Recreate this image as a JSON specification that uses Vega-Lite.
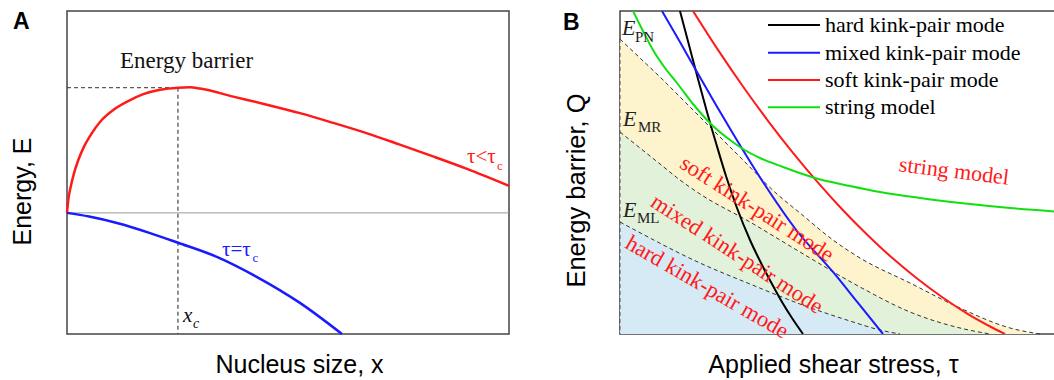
{
  "$schema": "https://vega.github.io/schema/vega-lite/v6.json",
  "background": "white",
  "padding": {"left": 9, "top": 10, "right": 0, "bottom": 0},
  "spacing": 47,
  "config": {
    "view": {"stroke": "#444", "strokeWidth": 1.5},
    "axis": {"domain": false, "ticks": false, "labels": false, "grid": false, "titleFont": "Liberation Sans", "titleFontSize": 25, "titleFontWeight": "normal", "titleColor": "#000", "titleBaseline": "alphabetic"},
    "text": {"font": "Liberation Serif", "fontSize": 22}
  },
  "datasets": {
    "a_red": [
      {"x": 0, "y": 0}, {"x": 0.029, "y": 0.32}, {"x": 0.084, "y": 0.65}, {"x": 0.158, "y": 0.98}, {"x": 0.256, "y": 1.31},
      {"x": 0.385, "y": 1.64}, {"x": 0.559, "y": 1.97}, {"x": 0.785, "y": 2.30}, {"x": 1.047, "y": 2.55}, {"x": 1.350, "y": 2.75},
      {"x": 1.726, "y": 2.94}, {"x": 2.104, "y": 3.05}, {"x": 2.52, "y": 3.10}, {"x": 2.78, "y": 3.11}, {"x": 3.01, "y": 3.08},
      {"x": 3.76, "y": 2.88}, {"x": 4.52, "y": 2.68}, {"x": 5.27, "y": 2.47}, {"x": 6.02, "y": 2.23}, {"x": 6.79, "y": 1.97},
      {"x": 7.53, "y": 1.69}, {"x": 8.28, "y": 1.40}, {"x": 9.05, "y": 1.09}, {"x": 10, "y": 0.67}
    ],
    "a_blue": [
      {"x": 0, "y": 0}, {"x": 0.5, "y": -0.09}, {"x": 1.13, "y": -0.25}, {"x": 1.88, "y": -0.50}, {"x": 2.51, "y": -0.74},
      {"x": 3.39, "y": -1.09}, {"x": 4.30, "y": -1.59}, {"x": 5.27, "y": -2.23}, {"x": 6.22, "y": -3.0}
    ],
    "b_models": [
      {"model": "hard kink-pair mode", "x": 1.357, "y": 10.0}, {"model": "hard kink-pair mode", "x": 1.561, "y": 8.947},
      {"model": "hard kink-pair mode", "x": 1.765, "y": 7.895}, {"model": "hard kink-pair mode", "x": 1.968, "y": 6.873},
      {"model": "hard kink-pair mode", "x": 2.172, "y": 5.913}, {"model": "hard kink-pair mode", "x": 2.398, "y": 4.892},
      {"model": "hard kink-pair mode", "x": 2.647, "y": 3.901}, {"model": "hard kink-pair mode", "x": 2.941, "y": 2.910},
      {"model": "hard kink-pair mode", "x": 3.213, "y": 2.136}, {"model": "hard kink-pair mode", "x": 3.439, "y": 1.548},
      {"model": "hard kink-pair mode", "x": 3.665, "y": 0.991}, {"model": "hard kink-pair mode", "x": 3.891, "y": 0.495},
      {"model": "hard kink-pair mode", "x": 4.140, "y": 0},
      {"model": "mixed kink-pair mode", "x": 0.950, "y": 10.0}, {"model": "mixed kink-pair mode", "x": 1.357, "y": 9.040},
      {"model": "mixed kink-pair mode", "x": 1.742, "y": 8.111}, {"model": "mixed kink-pair mode", "x": 2.172, "y": 7.090},
      {"model": "mixed kink-pair mode", "x": 2.602, "y": 6.099}, {"model": "mixed kink-pair mode", "x": 3.235, "y": 4.706},
      {"model": "mixed kink-pair mode", "x": 4.005, "y": 3.189}, {"model": "mixed kink-pair mode", "x": 4.819, "y": 1.920},
      {"model": "mixed kink-pair mode", "x": 5.385, "y": 0.960}, {"model": "mixed kink-pair mode", "x": 5.950, "y": 0},
      {"model": "soft kink-pair mode", "x": 1.652, "y": 10.0}, {"model": "soft kink-pair mode", "x": 2.217, "y": 8.796},
      {"model": "soft kink-pair mode", "x": 2.783, "y": 7.663}, {"model": "soft kink-pair mode", "x": 3.348, "y": 6.601},
      {"model": "soft kink-pair mode", "x": 3.914, "y": 5.607}, {"model": "soft kink-pair mode", "x": 4.480, "y": 4.684},
      {"model": "soft kink-pair mode", "x": 5.045, "y": 3.830}, {"model": "soft kink-pair mode", "x": 5.611, "y": 3.050},
      {"model": "soft kink-pair mode", "x": 6.176, "y": 2.334}, {"model": "soft kink-pair mode", "x": 6.742, "y": 1.693},
      {"model": "soft kink-pair mode", "x": 7.308, "y": 1.121}, {"model": "soft kink-pair mode", "x": 7.873, "y": 0.616},
      {"model": "soft kink-pair mode", "x": 8.439, "y": 0.186}, {"model": "soft kink-pair mode", "x": 8.710, "y": 0},
      {"model": "string model", "x": 0.294, "y": 10.0}, {"model": "string model", "x": 0.520, "y": 9.381},
      {"model": "string model", "x": 0.747, "y": 8.793}, {"model": "string model", "x": 1.018, "y": 8.235},
      {"model": "string model", "x": 1.290, "y": 7.771}, {"model": "string model", "x": 1.652, "y": 7.121},
      {"model": "string model", "x": 2.081, "y": 6.471}, {"model": "string model", "x": 2.489, "y": 6.006},
      {"model": "string model", "x": 2.783, "y": 5.728}, {"model": "string model", "x": 3.167, "y": 5.449},
      {"model": "string model", "x": 3.688, "y": 5.170}, {"model": "string model", "x": 4.412, "y": 4.830},
      {"model": "string model", "x": 5.204, "y": 4.582}, {"model": "string model", "x": 5.882, "y": 4.396},
      {"model": "string model", "x": 6.787, "y": 4.211}, {"model": "string model", "x": 7.919, "y": 4.025},
      {"model": "string model", "x": 8.824, "y": 3.901}, {"model": "string model", "x": 10.0, "y": 3.777}
    ],
    "b_legend": [
      {"model": "hard kink-pair mode", "x": 3.348, "x2": 4.525, "y": 9.567},
      {"model": "mixed kink-pair mode", "x": 3.348, "x2": 4.525, "y": 8.709},
      {"model": "soft kink-pair mode", "x": 3.348, "x2": 4.525, "y": 7.864},
      {"model": "string model", "x": 3.348, "x2": 4.525, "y": 7.019}
    ],
    "b_bounds": [
      {"b": "PN", "x": 0, "y": 9.133}, {"b": "PN", "x": 0.452, "y": 8.545}, {"b": "PN", "x": 0.905, "y": 7.957},
      {"b": "PN", "x": 1.471, "y": 7.183}, {"b": "PN", "x": 2.036, "y": 6.409}, {"b": "PN", "x": 2.715, "y": 5.480},
      {"b": "PN", "x": 3.552, "y": 4.334}, {"b": "PN", "x": 4.072, "y": 3.746}, {"b": "PN", "x": 4.819, "y": 2.910},
      {"b": "PN", "x": 5.430, "y": 2.353}, {"b": "PN", "x": 6.561, "y": 1.579}, {"b": "PN", "x": 7.692, "y": 0.805},
      {"b": "PN", "x": 8.824, "y": 0.186}, {"b": "PN", "x": 9.502, "y": 0},
      {"b": "MR", "x": 0, "y": 6.254}, {"b": "MR", "x": 0.452, "y": 5.759}, {"b": "MR", "x": 0.905, "y": 5.263},
      {"b": "MR", "x": 1.357, "y": 4.768}, {"b": "MR", "x": 1.810, "y": 4.334}, {"b": "MR", "x": 2.941, "y": 3.467},
      {"b": "MR", "x": 4.072, "y": 2.539}, {"b": "MR", "x": 5.430, "y": 1.455}, {"b": "MR", "x": 6.561, "y": 0.681},
      {"b": "MR", "x": 7.692, "y": 0.186}, {"b": "MR", "x": 8.371, "y": 0},
      {"b": "ML", "x": 0, "y": 3.467}, {"b": "ML", "x": 0.679, "y": 2.972}, {"b": "ML", "x": 1.290, "y": 2.539},
      {"b": "ML", "x": 1.810, "y": 2.198}, {"b": "ML", "x": 2.941, "y": 1.548}, {"b": "ML", "x": 4.072, "y": 0.929},
      {"b": "ML", "x": 5.204, "y": 0.402}, {"b": "ML", "x": 5.882, "y": 0.124}, {"b": "ML", "x": 6.335, "y": 0}
    ]
  },
  "hconcat": [
    {
      "width": 442,
      "height": 323,
      "encoding": {
        "x": {"field": "x", "type": "quantitative", "scale": {"domain": [0, 10], "nice": false, "zero": false}, "axis": {"title": "Nucleus size, x", "titleX": 232, "titleY": 38, "titleAlign": "center"}},
        "y": {"field": "y", "type": "quantitative", "scale": {"domain": [-3, 5], "nice": false, "zero": false}, "axis": {"title": "Energy, E", "titleX": -37, "titleY": 180, "titleAlign": "center", "titleAngle": -90}}
      },
      "layer": [
        {"data": {"values": [{"x": 0, "x2": 10, "y": 0}]}, "mark": {"type": "rule", "color": "#9a9a9a", "strokeWidth": 1}, "encoding": {"x2": {"field": "x2"}}},
        {"data": {"values": [{"x": 0, "x2": 2.51, "y": 3.10}]}, "mark": {"type": "rule", "color": "#333", "strokeWidth": 1, "strokeDash": [4, 3]}, "encoding": {"x2": {"field": "x2"}}},
        {"data": {"values": [{"x": 2.51, "y": 3.10, "y2": -3}]}, "mark": {"type": "rule", "color": "#555", "strokeWidth": 1.3, "strokeDash": [4, 3]}, "encoding": {"y2": {"field": "y2"}}},
        {"data": {"name": "a_red"}, "mark": {"type": "line", "color": "#ff1a1a", "strokeWidth": 2.5, "interpolate": "monotone"}},
        {"data": {"name": "a_blue"}, "mark": {"type": "line", "color": "#1a1aff", "strokeWidth": 2.5, "interpolate": "monotone"}},
        {"data": {"values": [{"x": 2.704, "y": 3.584, "label": "Energy barrier"}]}, "mark": {"type": "text", "align": "center", "baseline": "alphabetic", "fontSize": 23, "color": "#111"}, "encoding": {"text": {"field": "label"}}},
        {"data": {"values": [{"x": 9.05, "y": 1.238, "label": "τ<τ"}]}, "mark": {"type": "text", "align": "left", "baseline": "alphabetic", "fontSize": 21, "color": "#ff1a1a"}, "encoding": {"text": {"field": "label"}}},
        {"data": {"values": [{"x": 9.729, "y": 1.065, "label": "c"}]}, "mark": {"type": "text", "align": "left", "baseline": "alphabetic", "fontSize": 13, "color": "#ff1a1a"}, "encoding": {"text": {"field": "label"}}},
        {"data": {"values": [{"x": 3.507, "y": -1.065, "label": "τ=τ"}]}, "mark": {"type": "text", "align": "left", "baseline": "alphabetic", "fontSize": 21, "color": "#1a1aff"}, "encoding": {"text": {"field": "label"}}},
        {"data": {"values": [{"x": 4.197, "y": -1.214, "label": "c"}]}, "mark": {"type": "text", "align": "left", "baseline": "alphabetic", "fontSize": 13, "color": "#1a1aff"}, "encoding": {"text": {"field": "label"}}},
        {"data": {"values": [{"x": 2.624, "y": -2.70, "label": "x"}]}, "mark": {"type": "text", "align": "left", "baseline": "alphabetic", "fontSize": 21, "fontStyle": "italic", "color": "#111"}, "encoding": {"text": {"field": "label"}}},
        {"data": {"values": [{"x": 2.851, "y": -2.848, "label": "c"}]}, "mark": {"type": "text", "align": "left", "baseline": "alphabetic", "fontSize": 14, "fontStyle": "italic", "color": "#111"}, "encoding": {"text": {"field": "label"}}},
        {"data": {"values": [{"x": -1.222, "y": 4.557, "label": "A"}]}, "mark": {"type": "text", "align": "left", "baseline": "alphabetic", "font": "Liberation Sans", "fontWeight": "bold", "fontSize": 23, "color": "#000"}, "encoding": {"text": {"field": "label"}}}
      ]
    },
    {
      "width": 442,
      "height": 323,
      "encoding": {
        "x": {"field": "x", "type": "quantitative", "scale": {"domain": [0, 10], "nice": false, "zero": false}, "axis": {"title": "Applied shear stress, τ", "titleX": 213, "titleY": 38, "titleAlign": "center"}},
        "y": {"field": "y", "type": "quantitative", "scale": {"domain": [0, 10], "nice": false, "zero": false}, "axis": {"title": "Energy barrier, Q", "titleX": -36, "titleY": 179, "titleAlign": "center", "titleAngle": -90, "titleFontSize": 25.5}}
      },
      "layer": [
        {"data": {"name": "b_bounds"}, "transform": [{"filter": "datum.b === 'PN'"}], "mark": {"type": "area", "color": "#fdf3cc", "opacity": 1, "interpolate": "monotone"}},
        {"data": {"name": "b_bounds"}, "transform": [{"filter": "datum.b === 'MR'"}], "mark": {"type": "area", "color": "#e2f2da", "opacity": 1, "interpolate": "monotone"}},
        {"data": {"name": "b_bounds"}, "transform": [{"filter": "datum.b === 'ML'"}], "mark": {"type": "area", "color": "#d6eaf5", "opacity": 1, "interpolate": "monotone"}},
        {"data": {"name": "b_bounds"}, "mark": {"type": "line", "color": "#333", "strokeWidth": 1, "strokeDash": [4, 3], "interpolate": "monotone"}, "encoding": {"detail": {"field": "b"}}},
        {"data": {"values": [{"x": 0, "y": 9.133, "y2": 0}]}, "mark": {"type": "rule", "color": "#555", "strokeWidth": 1, "strokeDash": [4, 3]}, "encoding": {"y2": {"field": "y2"}}},
        {
          "data": {"name": "b_models"},
          "mark": {"type": "line", "strokeWidth": 2, "interpolate": "monotone", "clip": true},
          "encoding": {
            "color": {
              "field": "model", "type": "nominal",
              "scale": {"domain": ["hard kink-pair mode", "mixed kink-pair mode", "soft kink-pair mode", "string model"], "range": ["#000000", "#1a1aff", "#ff1a1a", "#10e010"]},
              "legend": null
            }
          }
        },
        {
          "data": {"name": "b_legend"},
          "mark": {"type": "rule", "strokeWidth": 2},
          "encoding": {
            "x2": {"field": "x2"},
            "color": {"field": "model", "type": "nominal", "legend": null}
          }
        },
        {
          "data": {"name": "b_legend"},
          "mark": {"type": "text", "align": "left", "baseline": "middle", "dx": 5, "fontSize": 22, "color": "#000"},
          "encoding": {
            "x": {"field": "x2", "type": "quantitative"},
            "text": {"field": "model"}
          }
        },
        {"data": {"values": [{"x": 0.045, "y": 9.257, "label": "E"}, {"x": 0.068, "y": 6.440, "label": "E"}, {"x": 0.068, "y": 3.622, "label": "E"}]}, "mark": {"type": "text", "align": "left", "baseline": "alphabetic", "fontSize": 22, "fontStyle": "italic", "color": "#222"}, "encoding": {"text": {"field": "label"}}},
        {"data": {"values": [{"x": 0.339, "y": 9.040, "label": "PN"}, {"x": 0.407, "y": 6.254, "label": "MR"}, {"x": 0.385, "y": 3.437, "label": "ML"}]}, "mark": {"type": "text", "align": "left", "baseline": "alphabetic", "fontSize": 15, "color": "#222"}, "encoding": {"text": {"field": "label"}}},
        {"data": {"values": [{"x": 3.100, "y": 3.870, "label": "soft kink-pair mode"}]}, "mark": {"type": "text", "align": "center", "baseline": "middle", "angle": 32.6, "fontSize": 22.5, "color": "#ff1a1a"}, "encoding": {"text": {"field": "label"}}},
        {"data": {"values": [{"x": 2.647, "y": 2.477, "label": "mixed kink-pair mode"}]}, "mark": {"type": "text", "align": "center", "baseline": "middle", "angle": 33, "fontSize": 22.5, "color": "#ff1a1a"}, "encoding": {"text": {"field": "label"}}},
        {"data": {"values": [{"x": 1.968, "y": 1.455, "label": "hard kink-pair mode"}]}, "mark": {"type": "text", "align": "center", "baseline": "middle", "angle": 30, "fontSize": 22.5, "color": "#ff1a1a"}, "encoding": {"text": {"field": "label"}}},
        {"data": {"values": [{"x": 7.557, "y": 5.046, "label": "string model"}]}, "mark": {"type": "text", "align": "center", "baseline": "middle", "angle": 7, "fontSize": 22, "color": "#ff1a1a"}, "encoding": {"text": {"field": "label"}}},
        {"data": {"values": [{"x": -1.290, "y": 9.412, "label": "B"}]}, "mark": {"type": "text", "align": "left", "baseline": "alphabetic", "font": "Liberation Sans", "fontWeight": "bold", "fontSize": 23, "color": "#000"}, "encoding": {"text": {"field": "label"}}}
      ]
    }
  ]
}
